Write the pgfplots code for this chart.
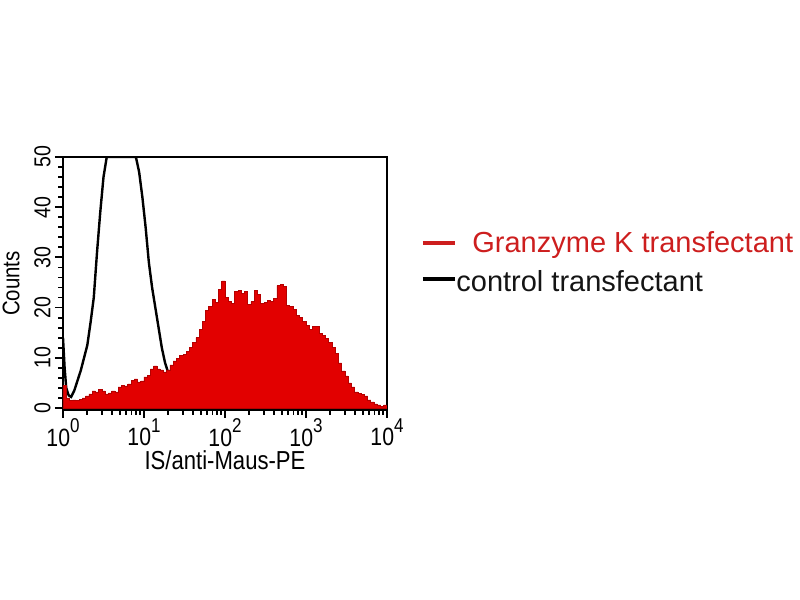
\documentclass[border=0pt]{standalone}
\usepackage{pgfplots}
\pgfplotsset{compat=1.18}
\usepackage{pgfplotstable}
\usepackage{fontspec}
\setmainfont{Liberation Sans}
\newfontfamily\cond[FakeStretch=0.85]{Liberation Sans}
\definecolor{histred}{RGB}{226,0,0}
\definecolor{legred}{RGB}{205,30,30}
\definecolor{legblack}{RGB}{20,20,20}
\newcommand\sups[1]{\raisebox{0.55em}{\fontsize{10}{10}\selectfont #1}}

\pgfplotstableread{
x y
0.00 4.5
0.04 2.0
0.08 1.5
0.12 1.6
0.16 1.5
0.20 1.7
0.24 2.0
0.28 2.4
0.32 2.8
0.36 3.4
0.40 3.2
0.44 3.7
0.48 3.4
0.52 2.8
0.56 3.0
0.60 3.4
0.64 3.2
0.68 4.2
0.72 4.5
0.76 4.4
0.80 4.8
0.84 5.5
0.88 5.8
0.92 5.2
0.96 5.4
1.00 6.2
1.04 6.5
1.08 7.8
1.12 8.4
1.16 7.8
1.20 7.6
1.24 7.2
1.28 7.6
1.32 8.6
1.36 9.4
1.40 9.8
1.44 10.4
1.48 10.6
1.52 11.2
1.56 12.0
1.60 13.0
1.64 14.0
1.68 15.6
1.72 17.2
1.76 19.4
1.80 20.2
1.84 21.6
1.88 21.0
1.92 23.6
1.96 25.3
2.00 22.0
2.04 21.2
2.08 20.8
2.12 23.2
2.16 23.4
2.20 22.8
2.24 23.3
2.28 20.6
2.32 21.2
2.36 23.4
2.40 22.6
2.44 20.9
2.48 21.0
2.52 21.4
2.56 21.2
2.60 21.8
2.64 24.4
2.68 24.6
2.72 24.2
2.76 20.4
2.80 20.2
2.84 19.6
2.88 18.4
2.92 18.0
2.96 17.3
3.00 16.4
3.04 15.6
3.08 16.2
3.12 16.2
3.16 14.8
3.20 14.4
3.24 13.8
3.28 13.0
3.32 12.0
3.36 10.8
3.40 9.0
3.44 7.4
3.48 6.4
3.52 5.0
3.56 4.2
3.60 3.2
3.64 2.9
3.68 2.7
3.72 2.4
3.76 1.6
3.80 1.2
3.84 0.8
3.88 0.6
3.92 0.3
3.96 0.6
4.00 0.6
}\redtable

\pgfplotstableread{
x y
0.00 14
0.02 8
0.04 4
0.07 2.5
0.10 2.2
0.14 3.5
0.18 5.5
0.22 7.5
0.26 10.0
0.30 12.5
0.34 17
0.38 22
0.42 31
0.46 39
0.50 46
0.54 50
0.90 50
0.94 47
0.98 42
1.02 36
1.06 29
1.10 24
1.14 20
1.18 16
1.22 12
1.26 9
1.30 7
1.34 5
}\blacktable

\begin{document}
\begin{tikzpicture}
\useasboundingbox (-31.5pt,-95pt) rectangle (368.5pt,205pt);
\begin{axis}[
  at={(0,0)}, anchor=south west,
  scale only axis, width=162pt, height=126.5pt,
  xmin=0, xmax=4, ymin=-0.4, ymax=50,
  /pgf/number format/assume math mode=true,
  axis line style={line width=1pt},
  xtick={0,1,2,3,4},
  xticklabels={10\sups{0},10\sups{1},10\sups{2},10\sups{3},10\sups{4}},
  minor xtick={0.301,0.477,0.602,0.699,0.778,0.845,0.903,0.954,
               1.301,1.477,1.602,1.699,1.778,1.845,1.903,1.954,
               2.301,2.477,2.602,2.699,2.778,2.845,2.903,2.954,
               3.301,3.477,3.602,3.699,3.778,3.845,3.903,3.954},
  ytick={0,10,20,30,40,50},
  minor ytick={2,4,6,8,12,14,16,18,22,24,26,28,32,34,36,38,42,44,46,48},
  tick align=outside, xtick pos=bottom, ytick pos=left,
  major tick length=4pt, minor tick length=2.3pt,
  tick style={line width=0.9pt, black},
  xticklabel style={font=\cond\fontsize{12.5}{12.5}\selectfont, inner sep=0.5pt, yshift=0.5pt},
  yticklabel style={font=\cond\fontsize{11.5}{11.5}\selectfont, rotate=90, anchor=south, inner sep=2pt},
  xlabel={IS/anti-Maus-PE},
  ylabel={Counts},
  x label style={font=\cond\fontsize{13}{13}\selectfont, at={(axis description cs:0.5,0)}, anchor=base, yshift=-30pt},
  y label style={font=\cond\fontsize{12}{12}\selectfont, at={(axis description cs:-0.16,0.5)}, anchor=center},
]
\addplot[black, line width=1.2pt] table[x=x,y=y] {\blacktable};
\addplot[const plot, fill=histred, draw=histred!80!black, line width=0.3pt] table[x=x,y=y] {\redtable} \closedcycle;
\end{axis}
% legend
\draw[legred, line width=1.8pt] (180pt,83.5pt) -- (196pt,83.5pt);
\node[anchor=base west, inner sep=0pt, text=legred, font=\fontsize{14.5}{14.5}\selectfont] at (204.5pt,78.5pt) {Granzyme K transfectant};
\draw[black, line width=1.8pt] (180pt,65.5pt) -- (196pt,65.5pt);
\node[anchor=base west, inner sep=0pt, text=legblack, font=\fontsize{14.5}{14.5}\selectfont] at (196.5pt,59pt) {control transfectant};
\end{tikzpicture}
\end{document}
